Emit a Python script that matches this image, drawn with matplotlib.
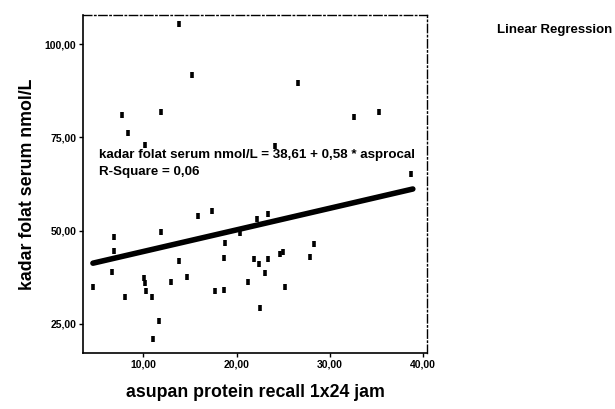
import matplotlib
matplotlib.use("Agg")
import matplotlib.pyplot as plt
import numpy as np
from matplotlib.ticker import FuncFormatter

plt.rcParams['font.family'] = ['Liberation Sans', 'DejaVu Sans']

protein = [13.86, 15.2, 26.6, 7.75, 11.86, 8.32, 10.2, 24.1, 32.6, 35.3, 38.7,
           4.57, 6.9, 6.9, 6.68, 8.04, 10.07, 10.15, 10.25, 10.97, 11.64, 11.0,
           11.86, 13.0, 13.86, 14.7, 15.9, 17.4, 17.7, 18.6, 18.76, 18.7, 20.4,
           21.25, 21.9, 22.15, 22.4, 23.0, 23.4, 23.4, 22.5, 24.65, 25.0, 25.2,
           27.9, 28.3]
folat = [105.4, 91.7, 89.5, 81.0, 81.9, 76.1, 73.1, 72.8, 80.5, 81.7, 65.2,
         35.0, 48.4, 44.6, 38.8, 32.1, 37.2, 36.0, 33.9, 32.1, 25.9, 20.9,
         49.7, 36.2, 41.9, 37.7, 53.9, 55.3, 33.8, 34.1, 46.8, 42.6, 49.5,
         36.3, 42.3, 53.0, 41.1, 38.7, 54.6, 42.3, 29.2, 43.7, 44.4, 34.8,
         42.9, 46.4]

intercept = 38.61
slope = 0.58
line_x = [4.6, 38.9]

xticks = [10, 20, 30, 40]
yticks = [25, 50, 75, 100]

fig = plt.figure(figsize=(6.15, 4.09), dpi=100)
ax = fig.add_axes([0.1355, 0.137, 0.5585, 0.826])

ax.plot(protein, folat, linestyle='none', marker='|', markersize=5,
        markeredgewidth=2.6, color='black', zorder=3)
lx = np.array(line_x)
ax.plot(lx, intercept + slope * lx, color='black', linewidth=4, solid_capstyle='round', zorder=2)

ax.set_xlim(3.57, 40.4)
ax.set_ylim(17.2, 107.8)
ax.set_xticks(xticks)
ax.set_yticks(yticks)
fmt = FuncFormatter(lambda v, p: f"{v:.2f}".replace('.', ','))
ax.xaxis.set_major_formatter(fmt)
ax.yaxis.set_major_formatter(fmt)
ax.tick_params(axis='both', direction='out', length=3, width=1, labelsize=7.5, pad=2)
for lab in ax.get_xticklabels() + ax.get_yticklabels():
    lab.set_fontweight('bold')

for s in ['left', 'bottom']:
    ax.spines[s].set_linewidth(1.2)
for s in ['top', 'right']:
    ax.spines[s].set_linewidth(1.0)
    ax.spines[s].set_linestyle((0, (6, 2, 1, 2)))

ax.text(0.045, 0.585, "kadar folat serum nmol/L = 38,61 + 0,58 * asprocal",
        transform=ax.transAxes, fontsize=9.6, fontweight='bold', va='center')
ax.text(0.045, 0.535, "R-Square = 0,06",
        transform=ax.transAxes, fontsize=9.6, fontweight='bold', va='center')

ax.set_xlabel("asupan protein recall 1x24 jam", fontsize=12.8, fontweight='bold', labelpad=10)
ax.set_ylabel("kadar folat serum nmol/L", fontsize=12.8, fontweight='bold', labelpad=6)

fig.text(497 / 615, 1 - 30 / 409, "Linear Regression", fontsize=9.5, fontweight='bold', va='center')

fig.savefig("out.png", dpi=100)
